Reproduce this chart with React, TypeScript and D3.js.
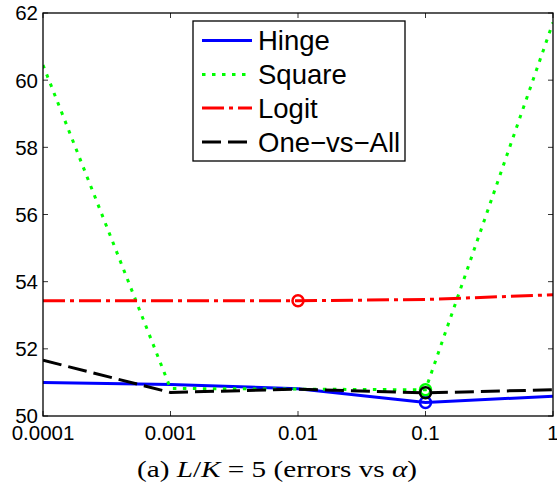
import React from "react";
import * as d3 from "d3";

const alphas = [0.0001, 0.001, 0.01, 0.1, 1];
const xTickLabels = ["0.0001", "0.001", "0.01", "0.1", "1"];
const yTicks = [50, 52, 54, 56, 58, 60, 62];

const hinge = [51.0, 50.94, 50.81, 50.4, 50.59];
const square = [60.45, 50.82, 50.8, 50.78, 61.72];
const logit = [53.43, 53.43, 53.43, 53.47, 53.61];
const oneVsAll = [51.66, 50.7, 50.8, 50.69, 50.78];

const seriesNames = ["Hinge", "Square", "Logit", "One\u2212vs\u2212All"];
const seriesData = [hinge, square, logit, oneVsAll];
const bestIndex = [3, 3, 2, 3];
const seriesColors = ["#0000ff", "#00ff00", "#ff0000", "#000000"];
const seriesDash = ["", "3.5 6.5", "22 5 4 5", "19 7"];

const W = 557;
const H = 489;
const left = 43;
const right = 553;
const top = 13;
const bottom = 416;

export default function App() {
  const x = d3.scaleLog().domain([1e-4, 1]).range([left, right]);
  const y = d3.scaleLinear().domain([50, 62]).range([bottom, top]);
  const line = d3
    .line<number>()
    .x((_, i) => x(alphas[i]))
    .y((d) => y(d));

  const legendRows = [40.5, 74.5, 108, 142];

  return (
    <svg
      width={W}
      height={H}
      style={{ position: "absolute", left: 0, top: 0, background: "#fff" }}
      fontFamily="'Liberation Sans', Arial, sans-serif"
    >
      <rect x={0} y={0} width={W} height={H} fill="#fff" />
      <defs>
        <clipPath id="plot">
          <rect x={left} y={top} width={right - left} height={bottom - top} />
        </clipPath>
      </defs>
      {/* ticks */}
      {alphas.map((a, i) => (
        <g key={"xt" + i}>
          <line x1={x(a)} x2={x(a)} y1={bottom} y2={bottom - 5} stroke="#333" strokeWidth={1} />
          <line x1={x(a)} x2={x(a)} y1={top} y2={top + 5} stroke="#333" strokeWidth={1} />
          <text x={x(a)} y={440} fontSize={20.5} textAnchor="middle" fill="#000">
            {xTickLabels[i]}
          </text>
        </g>
      ))}
      {yTicks.map((t) => (
        <g key={"yt" + t}>
          <line x1={left} x2={left + 5} y1={y(t)} y2={y(t)} stroke="#333" strokeWidth={1} />
          <line x1={right} x2={right - 5} y1={y(t)} y2={y(t)} stroke="#333" strokeWidth={1} />
          <text x={38} y={y(t) + 7.4} fontSize={20.5} textAnchor="end" fill="#000">
            {t}
          </text>
        </g>
      ))}
      {/* lines */}
      <g clipPath="url(#plot)">
        {seriesData.map((s, k) => (
          <path
            key={"s" + k}
            d={line(s) || ""}
            fill="none"
            stroke={seriesColors[k]}
            strokeWidth={3}
            strokeDasharray={seriesDash[k] || undefined}
          />
        ))}
      </g>
      {seriesData.map((s, k) => (
        <circle
          key={"c" + k}
          cx={x(alphas[bestIndex[k]])}
          cy={y(s[bestIndex[k]])}
          r={5.5}
          fill="none"
          stroke={seriesColors[k]}
          strokeWidth={2.5}
        />
      ))}
      {/* axes box */}
      <rect
        x={left}
        y={top}
        width={right - left}
        height={bottom - top}
        fill="none"
        stroke="#000"
        strokeWidth={1.3}
      />
      {/* legend */}
      <rect x={193} y={21} width={212} height={140} fill="#fff" stroke="#000" strokeWidth={1.3} />
      {seriesNames.map((n, k) => (
        <g key={"l" + k}>
          <line
            x1={202}
            x2={252}
            y1={legendRows[k]}
            y2={legendRows[k]}
            stroke={seriesColors[k]}
            strokeWidth={3}
            strokeDasharray={seriesDash[k] || undefined}
          />
          <text x={258} y={legendRows[k] + 9.7} fontSize={27.5} fill="#000">
            {n}
          </text>
        </g>
      ))}
      {/* caption */}
      <text
        x={137}
        y={477}
        fontSize={23}
        textLength={280}
        lengthAdjust="spacingAndGlyphs"
        fontFamily="'Liberation Serif', 'DejaVu Serif', serif"
        fill="#000"
      >
        <tspan>(a) </tspan>
        <tspan fontStyle="italic">L</tspan>
        <tspan>/</tspan>
        <tspan fontStyle="italic">K</tspan>
        <tspan>{" = 5 (errors vs "}</tspan>
        <tspan fontStyle="italic">{"\u03b1"}</tspan>
        <tspan>)</tspan>
      </text>
    </svg>
  );
}
